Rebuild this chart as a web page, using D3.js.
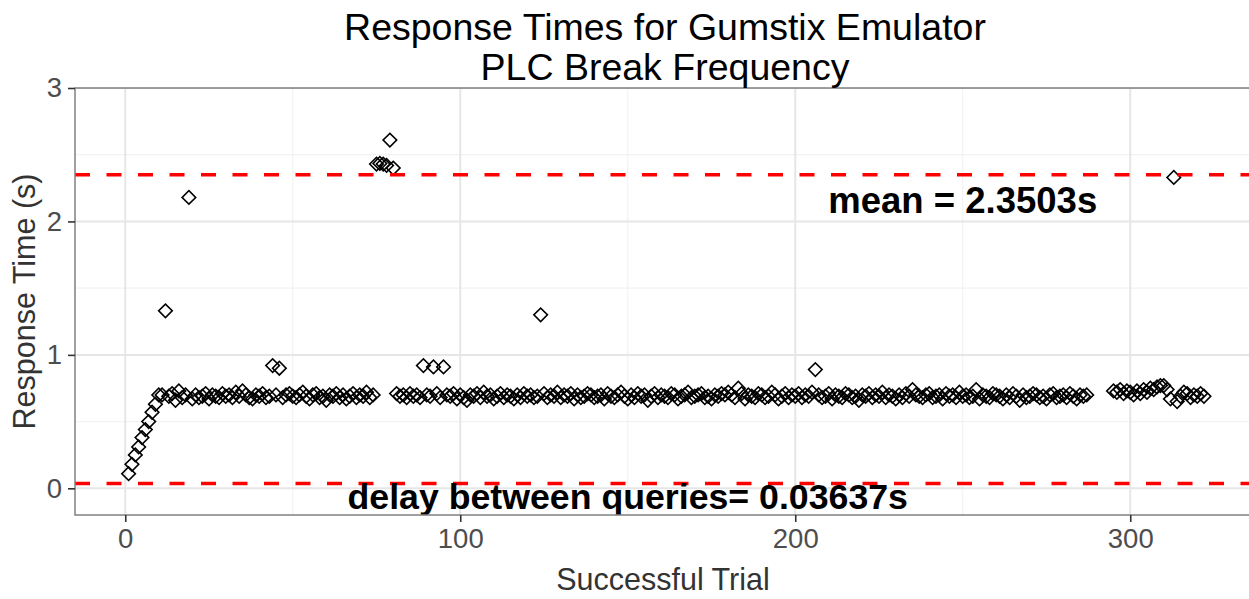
<!DOCTYPE html>
<html>
<head>
<meta charset="utf-8">
<script src="https://cdn.jsdelivr.net/npm/d3@7"></script>
<style>
  html, body { margin: 0; padding: 0; background: #ffffff; }
  svg { display: block; font-family: "Liberation Sans", Arial, sans-serif; }
</style>
</head>
<body>
<svg id="chart" width="1249" height="599"></svg>
<script>
// ---------- data ----------
const titleLines = ["Response Times for Gumstix Emulator", "PLC Break Frequency"];
const xLabel = "Successful Trial";
const yLabel = "Response Time (s)";
const xTicks = [0, 100, 200, 300];
const xMinor = [50, 150, 250];
const yTicks = [0, 1, 2, 3];
const yMinor = [0.5, 1.5, 2.5];

// first run of trials starts at trial 1
const runAStart = 1;
const runAValues = [
  0.11, 0.18, 0.25, 0.31, 0.38, 0.44, 0.50, 0.57, 0.63, 0.70,
  0.70, 1.33, 0.69, 0.71, 0.66, 0.73, 0.68, 0.70, 2.18, 0.67,
  0.70, 0.68, 0.69, 0.71, 0.67, 0.70, 0.69, 0.68, 0.71, 0.69,
  0.70, 0.68, 0.72, 0.69, 0.73, 0.70, 0.68, 0.67, 0.70, 0.69,
  0.71, 0.68, 0.69, 0.92, 0.70, 0.90, 0.68, 0.70, 0.71, 0.69,
  0.68, 0.70, 0.72, 0.69, 0.67, 0.70, 0.71, 0.68, 0.69, 0.66,
  0.70, 0.69, 0.71, 0.68, 0.70, 0.67, 0.69, 0.71, 0.68, 0.70,
  0.69, 0.72, 0.68, 0.70, 2.43, 2.435, 2.43, 2.42, 2.61, 2.40,
  0.71, 0.69, 0.70, 0.68, 0.71, 0.69, 0.70, 0.68, 0.92, 0.70,
  0.69, 0.91, 0.71, 0.68, 0.91, 0.70, 0.69, 0.71, 0.67, 0.70,
  0.68, 0.66, 0.70, 0.69, 0.71, 0.68, 0.72, 0.69, 0.70, 0.67,
  0.69, 0.71, 0.68, 0.70, 0.69, 0.67, 0.70, 0.68, 0.71, 0.69,
  0.70, 0.68, 0.69, 1.30, 0.71, 0.68, 0.70, 0.69, 0.72, 0.68,
  0.70, 0.69, 0.71, 0.67, 0.70, 0.68, 0.69, 0.71, 0.70, 0.68,
  0.69, 0.70, 0.67, 0.71, 0.69, 0.68, 0.70, 0.72, 0.69, 0.67,
  0.70, 0.68, 0.71, 0.69, 0.70, 0.66, 0.69, 0.71, 0.68, 0.70,
  0.69, 0.68, 0.71, 0.70, 0.67, 0.69, 0.70, 0.72, 0.68, 0.69,
  0.70, 0.71, 0.68, 0.69, 0.67, 0.70, 0.69, 0.71, 0.70, 0.72,
  0.70, 0.68, 0.75, 0.71, 0.67, 0.70, 0.69, 0.68, 0.71, 0.70,
  0.68, 0.69, 0.72, 0.70, 0.67, 0.69, 0.71, 0.68, 0.70, 0.69,
  0.71, 0.68, 0.70, 0.69, 0.72, 0.89, 0.70, 0.68, 0.69, 0.71,
  0.67, 0.70, 0.69, 0.68, 0.71, 0.70, 0.68, 0.69, 0.66, 0.70,
  0.69, 0.71, 0.68, 0.70, 0.69, 0.72, 0.68, 0.70, 0.69, 0.67,
  0.70, 0.68, 0.71, 0.69, 0.74, 0.70, 0.69, 0.68, 0.70, 0.71,
  0.68, 0.69, 0.70, 0.67, 0.71, 0.69, 0.70, 0.68, 0.72, 0.69,
  0.70, 0.68, 0.69, 0.74, 0.67, 0.70, 0.69, 0.68, 0.71, 0.70,
  0.69, 0.67, 0.70, 0.68, 0.71, 0.69, 0.66, 0.70, 0.68, 0.69,
  0.71, 0.70, 0.68, 0.69, 0.67, 0.70, 0.71, 0.68, 0.69, 0.70,
  0.68, 0.71, 0.69, 0.67, 0.70, 0.69, 0.70
];
// second run of trials starts at trial 295
const runBStart = 295;
const runBValues = [
  0.73, 0.72, 0.74, 0.71, 0.73, 0.72, 0.70, 0.73, 0.71, 0.74,
  0.72, 0.75, 0.74, 0.76, 0.77, 0.77, 0.74, 0.67, 2.33, 0.65,
  0.69, 0.72, 0.71, 0.68, 0.70, 0.69, 0.71, 0.69
];

const meanValue = 2.3503;
const delayValue = 0.03637;
const meanText = "mean = 2.3503s";
const delayText = "delay between queries= 0.03637s";
const meanTextPos = [250, 2.16];
const delayTextPos = [150, -0.065];

// ---------- build ----------
const points = runAValues.map((v, i) => ({ x: runAStart + i, y: v }))
  .concat(runBValues.map((v, i) => ({ x: runBStart + i, y: v })));

const svg = d3.select("#chart");
const panel = { left: 75, top: 88, right: 1258, bottom: 515 };

const x = d3.scaleLinear().domain([-15, 338]).range([panel.left, panel.left + 353 * 3.35]);
const y = d3.scaleLinear().domain([-0.2, 3]).range([panel.bottom, panel.top]);

svg.append("defs").append("clipPath").attr("id", "clip")
  .append("rect")
  .attr("x", panel.left).attr("y", panel.top)
  .attr("width", panel.right - panel.left).attr("height", panel.bottom - panel.top);

svg.append("rect")
  .attr("x", panel.left).attr("y", panel.top)
  .attr("width", panel.right - panel.left).attr("height", panel.bottom - panel.top)
  .attr("fill", "#ffffff");

const grid = svg.append("g").attr("clip-path", "url(#clip)");
grid.selectAll(".xminor").data(xMinor).join("line")
  .attr("x1", d => x(d)).attr("x2", d => x(d))
  .attr("y1", panel.top).attr("y2", panel.bottom)
  .attr("stroke", "#f2f2f2").attr("stroke-width", 1.2);
grid.selectAll(".yminor").data(yMinor).join("line")
  .attr("y1", d => y(d)).attr("y2", d => y(d))
  .attr("x1", panel.left).attr("x2", panel.right)
  .attr("stroke", "#f2f2f2").attr("stroke-width", 1.2);
grid.selectAll(".xmajor").data(xTicks).join("line")
  .attr("x1", d => x(d)).attr("x2", d => x(d))
  .attr("y1", panel.top).attr("y2", panel.bottom)
  .attr("stroke", "#e6e6e6").attr("stroke-width", 2);
grid.selectAll(".ymajor").data(yTicks).join("line")
  .attr("y1", d => y(d)).attr("y2", d => y(d))
  .attr("x1", panel.left).attr("x2", panel.right)
  .attr("stroke", "#e6e6e6").attr("stroke-width", 2);

const plot = svg.append("g").attr("clip-path", "url(#clip)");

// points (open diamonds)
const sym = d3.symbol().type(d3.symbolSquare).size(92);
plot.selectAll(".pt").data(points).join("path")
  .attr("d", sym)
  .attr("transform", d => `translate(${x(d.x)},${y(d.y)}) rotate(45)`)
  .attr("fill", "none")
  .attr("stroke", "#000000")
  .attr("stroke-width", 1.6);

// reference lines
[meanValue, delayValue].forEach(v => {
  plot.append("line")
    .attr("x1", panel.left).attr("x2", panel.right)
    .attr("y1", y(v)).attr("y2", y(v))
    .attr("stroke", "#ff0000").attr("stroke-width", 3.6)
    .attr("stroke-dasharray", "15,16.5");
});

// annotations
plot.append("text")
  .attr("x", x(meanTextPos[0])).attr("y", y(meanTextPos[1]))
  .attr("text-anchor", "middle").attr("dominant-baseline", "central")
  .attr("font-size", 36.5).attr("font-weight", "bold").attr("fill", "#000")
  .text(meanText);
plot.append("text")
  .attr("x", x(delayTextPos[0])).attr("y", y(delayTextPos[1]))
  .attr("text-anchor", "middle").attr("dominant-baseline", "central")
  .attr("font-size", 35.7).attr("font-weight", "bold").attr("fill", "#000")
  .text(delayText);

// panel border
svg.append("rect")
  .attr("x", panel.left).attr("y", panel.top)
  .attr("width", panel.right - panel.left).attr("height", panel.bottom - panel.top)
  .attr("fill", "none").attr("stroke", "#808080").attr("stroke-width", 1.5);

// axes
const xAxis = d3.axisBottom(x).tickValues(xTicks).tickFormat(d3.format("d")).tickSize(7).tickPadding(6);
const gx = svg.append("g").attr("transform", `translate(0,${panel.bottom})`).call(xAxis);
gx.select(".domain").remove();
gx.selectAll("line").attr("stroke", "#333333").attr("stroke-width", 1.6);
gx.selectAll("text").attr("font-size", 27.5).attr("fill", "#4d4d4d")
  .attr("font-family", "Liberation Sans, Arial, sans-serif");

const yAxis = d3.axisLeft(y).tickValues(yTicks).tickFormat(d3.format("d")).tickSize(7).tickPadding(6);
const gy = svg.append("g").attr("transform", `translate(${panel.left},0)`).call(yAxis);
gy.select(".domain").remove();
gy.selectAll("line").attr("stroke", "#333333").attr("stroke-width", 1.6);
gy.selectAll("text").attr("font-size", 27.5).attr("fill", "#4d4d4d")
  .attr("font-family", "Liberation Sans, Arial, sans-serif");

// titles
svg.append("text").attr("x", 665).attr("y", 40)
  .attr("text-anchor", "middle").attr("font-size", 37.5).attr("fill", "#000")
  .text(titleLines[0]);
svg.append("text").attr("x", 665).attr("y", 80)
  .attr("text-anchor", "middle").attr("font-size", 37.5).attr("fill", "#000")
  .text(titleLines[1]);

svg.append("text").attr("x", 663).attr("y", 590)
  .attr("text-anchor", "middle").attr("font-size", 30.5).attr("fill", "#333333")
  .text(xLabel);
svg.append("text")
  .attr("transform", `translate(35,${(panel.top + panel.bottom) / 2}) rotate(-90)`)
  .attr("text-anchor", "middle").attr("font-size", 30.5).attr("fill", "#333333")
  .text(yLabel);
</script>
</body>
</html>
